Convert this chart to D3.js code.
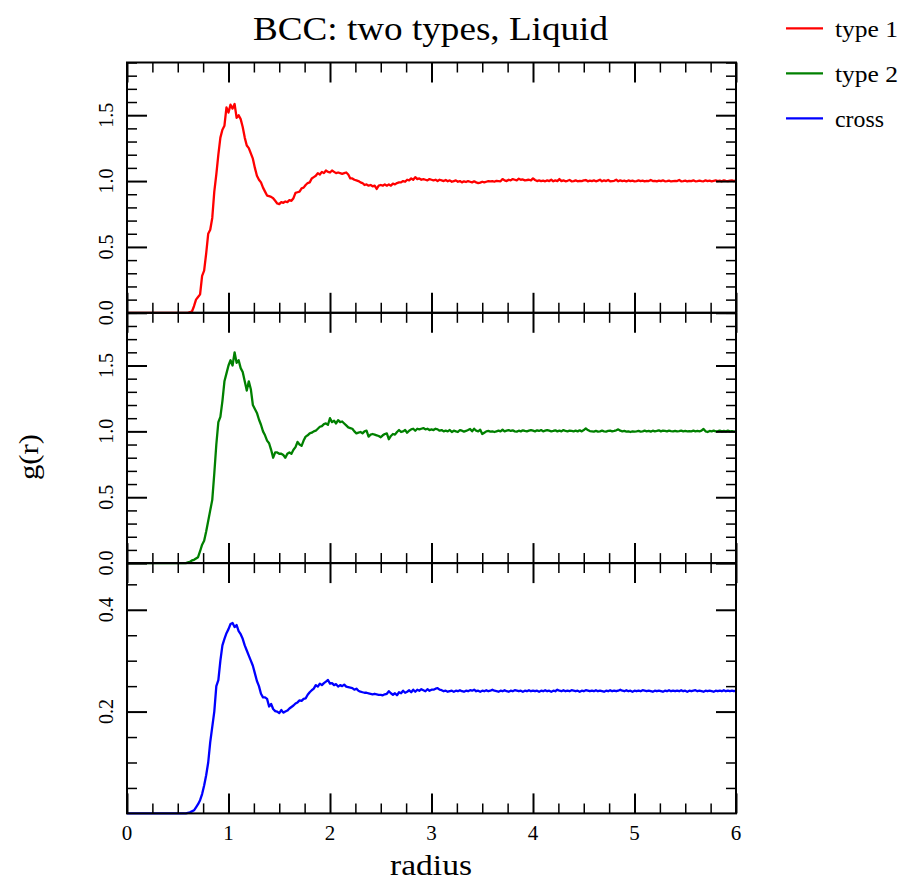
<!DOCTYPE html>
<html>
<head>
<meta charset="utf-8">
<script src="https://cdn.jsdelivr.net/npm/d3@7/dist/d3.min.js"></script>
<style>
  html, body { margin: 0; padding: 0; background: #fff; }
  svg { display: block; }
  text { font-family: "Liberation Serif", "DejaVu Serif", serif; fill: #000; }
</style>
</head>
<body>
<svg id="chart" width="901" height="880"></svg>
<script>
// ---------------- data ----------------
const title = "BCC: two types, Liquid";
const xLabel = "radius";
const yLabel = "g(r)";
const seriesNames = ["type 1", "type 2", "cross"];
const seriesColors = ["#ff0000", "#008000", "#0000ff"];
const rStep = 0.02;           // radius spacing of the samples (r = 0 ... 6)
const xTicks = [0, 1, 2, 3, 4, 5, 6];
const yTicksTop = [0.0, 0.5, 1.0, 1.5];
const yTicksCross = [0.2, 0.4];

const gType1 = [
  0,0,0,0,0,0,0,0,0,0, 0,0,0,0,0,0,0,0,0,0, 0,0,0,0,0,0,0,0,0,0,
  0, 0.005, 0.01, 0.05, 0.10, 0.12, 0.14, 0.28, 0.32, 0.45,
  0.60, 0.63, 0.72, 0.92, 1.05, 1.20, 1.33, 1.39, 1.42, 1.56,
  1.52, 1.58, 1.55, 1.585, 1.48, 1.50, 1.47, 1.41, 1.33, 1.27,
  1.25, 1.21, 1.17, 1.10, 1.04, 1.01, 0.99, 0.95, 0.92, 0.89,
  0.885, 0.88, 0.87, 0.85, 0.83, 0.825, 0.84, 0.835, 0.845, 0.84,
  0.855, 0.85, 0.87, 0.91, 0.915, 0.92, 0.945, 0.95, 0.97, 0.985,
  0.99, 1.02, 1.03, 1.04, 1.06, 1.05, 1.07, 1.06, 1.08, 1.07,
  1.065, 1.08, 1.07, 1.06, 1.065, 1.06, 1.055, 1.06, 1.065, 1.05,
  1.02, 1.02, 1.01, 1.005, 1.0, 0.99, 0.985, 0.97, 0.975, 0.965,
  0.97, 0.96, 0.965, 0.94, 0.965, 0.97, 0.965, 0.975, 0.965, 0.975,
  0.965, 0.98, 0.975, 0.985, 0.99, 0.99, 1.0, 0.995, 1.01, 1.005,
  1.02, 1.01, 1.03, 1.015, 1.02, 1.01, 1.015, 1.01, 1.005, 1.015,
  1.01,
  1.005, 1.01, 1.0, 1.01, 1.005, 1.0, 1.008, 0.998, 1.005, 0.995,
  1.0, 1.005, 0.995, 1.0, 0.99, 0.998, 0.993, 1.0, 0.995, 0.99,
  0.998, 0.99, 0.985, 0.988, 0.995, 0.99, 0.995, 1.0, 0.998, 1.0,
  0.995, 1.002, 1.0, 0.998, 1.015, 1.005, 1.0, 1.01, 1.005, 1.015,
  1.01, 1.005, 1.018, 1.01, 1.012, 1.005, 1.008, 1.01, 1.005, 1.02,
  1.008, 1.0, 1.005, 1.0, 1.003, 0.998, 1.005, 1.0, 1.01, 0.998,
  1.005, 1.0, 1.015, 1.0, 1.005, 0.998, 1.002, 1.008, 0.998, 1.0,
  1.005, 0.998, 1.002, 1.0, 1.005, 1.008, 0.998, 1.003, 1.0, 1.005,
  0.998, 1.003, 1.01, 0.998, 1.005, 1.0, 1.008, 0.998, 1.0, 1.002,
  1.01, 0.998, 1.005, 1.0, 1.003, 0.997, 1.005, 1.0, 1.003, 0.998,
  1.0, 1.005, 1.0, 1.003, 0.998, 1.002, 1.0, 1.008, 1.0, 1.002,
  0.998, 1.003, 1.0, 1.005, 0.998, 1.0, 1.003, 0.997, 1.0, 1.002,
  1.0, 1.008, 0.998, 1.0, 1.003, 0.997, 1.002, 1.0, 1.005, 0.998,
  1.0, 1.003, 1.0, 0.998, 1.005, 1.0, 1.003, 0.998, 1.002, 1.005,
  1.0, 1.003, 0.998, 1.005, 1.002, 1.0, 1.003, 1.005, 1.0, 1.005
];

const gType2 = [
  0,0,0,0,0,0,0,0,0,0, 0,0,0,0,0,0,0,0,0,0, 0,0,0,0,0,0,0,0,0,0,
  0.005, 0.01, 0.02, 0.025, 0.035, 0.045, 0.09, 0.14, 0.17, 0.24,
  0.32, 0.40, 0.48, 0.68, 0.90, 1.07, 1.11, 1.23, 1.38, 1.44,
  1.50, 1.54, 1.50, 1.60, 1.52, 1.54, 1.48, 1.45, 1.38, 1.31,
  1.38, 1.32, 1.20, 1.17, 1.14, 1.09, 1.05, 1.00, 0.97, 0.93,
  0.91, 0.86, 0.80, 0.84, 0.84, 0.83, 0.83, 0.82, 0.80, 0.83,
  0.84, 0.83, 0.86, 0.88, 0.92, 0.90, 0.89, 0.93, 0.96, 0.97,
  0.985, 0.99, 1.0, 1.005, 1.02, 1.035, 1.04, 1.055, 1.06, 1.05,
  1.10, 1.07, 1.08, 1.06, 1.085, 1.07, 1.075, 1.06, 1.045, 1.03,
  1.025, 1.02, 1.0, 0.985, 0.99, 0.995, 0.985, 1.0, 1.005, 0.96,
  0.975, 0.98, 0.975, 0.97, 0.965, 0.955, 0.97, 0.98, 0.985, 0.94,
  0.965, 0.98, 0.975, 0.995, 1.01, 0.995, 1.0, 1.01, 0.99, 1.005,
  1.015, 1.02, 1.005, 1.02, 1.015, 1.02, 1.025, 1.015, 1.02, 1.01,
  1.015,
  1.01, 1.02, 1.015, 1.005, 1.01, 1.0, 1.005, 1.0, 1.01, 0.995,
  1.005, 1.0, 0.995, 1.01, 1.005, 0.998, 1.003, 1.01, 1.018, 1.0,
  1.02, 1.005, 1.0, 1.012, 0.98, 0.99, 1.0, 1.003, 0.998, 1.0,
  0.995, 1.0, 1.005, 1.0, 1.012, 1.0, 1.005, 1.01, 1.003, 1.008,
  1.0, 0.998, 1.005, 1.0, 1.008, 1.003, 1.0, 1.005, 1.01, 1.005,
  1.0, 1.008, 1.003, 1.01, 1.0, 1.005, 1.01, 1.005, 1.0, 1.003,
  1.008, 1.0, 1.005, 1.0, 1.01, 1.003, 1.0, 1.005, 1.003, 1.0,
  1.005, 1.0, 1.008, 1.0, 1.01, 1.022, 1.01, 1.002, 1.0, 0.998,
  1.003, 0.998, 1.0, 1.005, 1.0, 0.998, 1.003, 1.005, 1.0, 1.003,
  1.008, 1.015, 1.005, 1.0, 1.003, 0.998, 1.0, 0.995, 1.0, 0.998,
  1.0, 1.003, 0.998, 1.0, 1.005, 1.0, 1.003, 0.998, 1.005, 1.0,
  1.003, 1.008, 1.0, 1.005, 1.003, 1.0, 1.005, 1.002, 1.0, 1.003,
  1.0, 1.002, 1.005, 1.0, 1.003, 1.0, 1.002, 1.0, 1.005, 1.0,
  1.003, 1.0, 1.005, 1.018, 1.0, 0.995, 1.003, 1.0, 1.005, 1.0,
  1.002, 1.005, 1.0, 1.003, 1.0, 1.005, 1.0, 1.002, 0.998, 1.0
];

const gCross = [
  0,0,0,0,0,0,0,0,0,0, 0,0,0,0,0,0,0,0,0,0, 0,0,0,0,0,0,0,0,0,0,
  0.001, 0.002, 0.004, 0.006, 0.012, 0.018, 0.026, 0.038, 0.055, 0.075,
  0.10, 0.14, 0.17, 0.20, 0.25, 0.262, 0.30, 0.33, 0.343, 0.354,
  0.362, 0.372, 0.374, 0.366, 0.37, 0.358, 0.352, 0.343, 0.33, 0.32,
  0.31, 0.30, 0.29, 0.275, 0.26, 0.25, 0.235, 0.228, 0.228, 0.225,
  0.21, 0.215, 0.205, 0.201, 0.2, 0.197, 0.203, 0.198, 0.2, 0.202,
  0.206, 0.209, 0.212, 0.216, 0.218, 0.222, 0.221, 0.225, 0.226, 0.233,
  0.238, 0.242, 0.245, 0.252, 0.249, 0.255, 0.252, 0.256, 0.259, 0.262,
  0.255, 0.256, 0.252, 0.254, 0.249, 0.252, 0.25, 0.253, 0.249, 0.248,
  0.247, 0.246, 0.243, 0.245, 0.241, 0.239, 0.238, 0.237, 0.237, 0.236,
  0.235, 0.234, 0.235, 0.234, 0.233, 0.233, 0.232, 0.234, 0.235, 0.24,
  0.236, 0.233, 0.236, 0.232, 0.238, 0.236, 0.241, 0.237, 0.239, 0.242,
  0.238, 0.243, 0.239, 0.243, 0.241, 0.244, 0.242, 0.24, 0.244, 0.241,
  0.243,
  0.243, 0.245, 0.246, 0.243, 0.242, 0.24, 0.241, 0.239, 0.24, 0.241,
  0.239, 0.241, 0.24, 0.242, 0.24, 0.239, 0.241, 0.24, 0.242, 0.241,
  0.243, 0.24, 0.241, 0.239, 0.241, 0.24, 0.242, 0.24, 0.241, 0.243,
  0.241, 0.24, 0.239, 0.241, 0.24, 0.242, 0.24, 0.239, 0.241, 0.24,
  0.242, 0.241, 0.24, 0.241, 0.239, 0.241, 0.24, 0.242, 0.24, 0.241,
  0.24, 0.241, 0.239, 0.241, 0.24, 0.242, 0.24, 0.241, 0.239, 0.241,
  0.24, 0.243, 0.241, 0.24, 0.242, 0.24, 0.241, 0.24, 0.242, 0.241,
  0.24, 0.241, 0.239, 0.241, 0.24, 0.242, 0.241, 0.24, 0.241, 0.24,
  0.242, 0.24, 0.241, 0.24, 0.239, 0.241, 0.24, 0.242, 0.24, 0.241,
  0.24, 0.241, 0.243, 0.241, 0.24, 0.242, 0.24, 0.241, 0.239, 0.241,
  0.24, 0.241, 0.24, 0.242, 0.241, 0.24, 0.241, 0.24, 0.239, 0.241,
  0.24, 0.241, 0.24, 0.239, 0.241, 0.24, 0.242, 0.24, 0.241, 0.24,
  0.241, 0.24, 0.242, 0.24, 0.241, 0.239, 0.241, 0.24, 0.241, 0.242,
  0.24, 0.241, 0.24, 0.239, 0.241, 0.24, 0.241, 0.24, 0.239, 0.241,
  0.24, 0.241, 0.24, 0.242, 0.24, 0.241, 0.24, 0.241, 0.24, 0.241
];

// ---------------- layout ----------------
const svg = d3.select("#chart");
const left = 127, right = 736;
const panelTops = [62.5, 312.8, 563.1];
const panelH = 250.3;
const panels = [
  { values: gType1, yMax: 1.9, majors: yTicksTop, minorStep: 0.1, labels: yTicksTop },
  { values: gType2, yMax: 1.9, majors: yTicksTop, minorStep: 0.1, labels: yTicksTop },
  { values: gCross, yMax: 0.4917, majors: yTicksCross, minorStep: 0.05, labels: yTicksCross }
];

const x = d3.scaleLinear().domain([0, 6]).range([left, right]);
const xMinor = d3.range(0, 6.0001, 0.25).filter(v => Math.abs(v - Math.round(v)) > 1e-6);

panels.forEach((p, k) => {
  const top = panelTops[k], bottom = top + panelH;
  const y = d3.scaleLinear().domain([0, p.yMax]).range([bottom, top]);
  const g = svg.append("g");

  // data line
  const pts = p.values.map((v, i) => [i * rStep, v]);
  const line = d3.line().x(d => x(d[0])).y(d => y(d[1]));
  g.append("path").datum(pts)
    .attr("d", line)
    .attr("fill", "none")
    .attr("stroke", seriesColors[k])
    .attr("stroke-width", 2.3)
    .attr("stroke-linejoin", "round");

  // y minor ticks
  const yMinor = d3.range(0, p.yMax + 1e-9, p.minorStep)
    .filter(v => !p.majors.some(m => Math.abs(m - v) < 1e-6) && v > 1e-9);

  const tickGroups = [
    { axis: d3.axisBottom(x).tickValues(xTicks).tickSize(-20), t: `translate(0,${bottom})`, w: 2 },
    { axis: d3.axisBottom(x).tickValues(xMinor).tickSize(-10), t: `translate(0,${bottom})`, w: 1.5 },
    { axis: d3.axisTop(x).tickValues(xTicks).tickSize(-20), t: `translate(0,${top})`, w: 2 },
    { axis: d3.axisTop(x).tickValues(xMinor).tickSize(-10), t: `translate(0,${top})`, w: 1.5 },
    { axis: d3.axisLeft(y).tickValues(p.majors).tickSize(-20), t: `translate(${left},0)`, w: 2 },
    { axis: d3.axisLeft(y).tickValues(yMinor).tickSize(-10), t: `translate(${left},0)`, w: 1.5 },
    { axis: d3.axisRight(y).tickValues(p.majors).tickSize(-20), t: `translate(${right},0)`, w: 2 },
    { axis: d3.axisRight(y).tickValues(yMinor).tickSize(-10), t: `translate(${right},0)`, w: 1.5 }
  ];
  tickGroups.forEach(tg => {
    const ag = g.append("g").attr("transform", tg.t).call(tg.axis.tickFormat(""));
    ag.select(".domain").remove();
    ag.selectAll(".tick line").attr("stroke", "#000").attr("stroke-width", tg.w);
  });

  // y tick labels (rotated)
  g.selectAll("text.ylab").data(p.labels).enter().append("text")
    .attr("class", "ylab")
    .attr("transform", d => `translate(113,${y(d)}) rotate(-90)`)
    .attr("text-anchor", "middle")
    .attr("font-size", 20)
    .text(d => d.toFixed(1));

  // frame
  g.append("rect")
    .attr("x", left).attr("y", top)
    .attr("width", right - left).attr("height", panelH)
    .attr("fill", "none").attr("stroke", "#000").attr("stroke-width", 2);
});

// x tick labels
svg.selectAll("text.xlab").data(xTicks).enter().append("text")
  .attr("class", "xlab")
  .attr("x", d => x(d)).attr("y", 840)
  .attr("text-anchor", "middle")
  .attr("font-size", 21)
  .text(d => d);

// titles
svg.append("text").attr("x", 430.5).attr("y", 40)
  .attr("text-anchor", "middle").attr("font-size", 34)
  .attr("textLength", 355).attr("lengthAdjust", "spacingAndGlyphs").text(title);
svg.append("text").attr("x", 431).attr("y", 875)
  .attr("text-anchor", "middle").attr("font-size", 30)
  .attr("textLength", 82).attr("lengthAdjust", "spacingAndGlyphs").text(xLabel);
svg.append("text").attr("transform", "translate(38,457) rotate(-90)")
  .attr("text-anchor", "middle").attr("font-size", 28)
  .attr("textLength", 46).attr("lengthAdjust", "spacingAndGlyphs").text(yLabel);

// legend
const legendW = [63, 63, 49];
seriesNames.forEach((name, i) => {
  const ly = 28.3 + i * 45;
  svg.append("line").attr("x1", 786).attr("x2", 823).attr("y1", ly).attr("y2", ly)
    .attr("stroke", seriesColors[i]).attr("stroke-width", 2.3);
  svg.append("text").attr("x", 835).attr("y", ly + 9)
    .attr("font-size", 23)
    .attr("textLength", legendW[i]).attr("lengthAdjust", "spacingAndGlyphs").text(name);
});
</script>
</body>
</html>
